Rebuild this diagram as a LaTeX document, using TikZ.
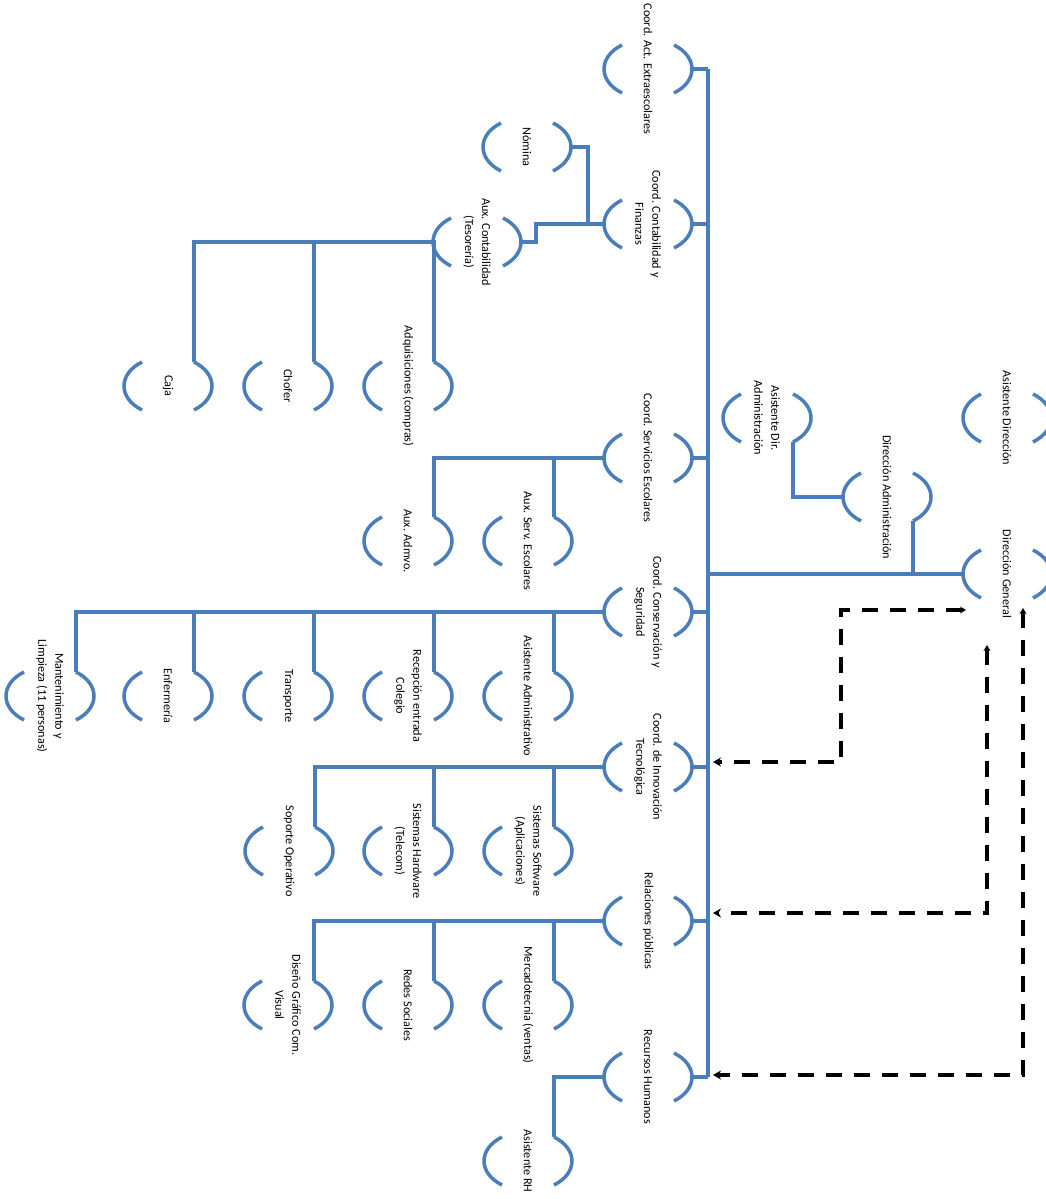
\documentclass[tikz,border=0pt]{standalone}
\usepackage{fontspec}
\setmainfont{Carlito}
\usetikzlibrary{arrows.meta}
\definecolor{orgblue}{RGB}{74,126,187}
\newcommand\orgnode[4]{%
  \begin{scope}[shift={(#2,#3)}]
    \node[txt] (#1) at (0,0) {#4};
    \draw[brk] (-26,-24) .. controls (-50,-12) and (-50,12) .. (-26,24);
    \draw[brk] (26,-24) .. controls (50,-12) and (50,12) .. (26,24);
    \coordinate (#1-l) at (-44,0);
    \coordinate (#1-r) at (44,0);
    \coordinate (#1-rt) at (26,-24);
    \coordinate (#1-rb) at (26,24);
  \end{scope}}
\begin{document}
\begin{tikzpicture}[x=1pt,y=-1pt,
  txt/.style={rotate=-90,align=center,inner sep=0pt,font=\fontsize{12.2}{17}\selectfont},
  brk/.style={draw=orgblue,line width=3.5pt},
  conn/.style={draw=orgblue,line width=3.5pt},
  dashline/.style={draw=black,line width=3.5pt,dash pattern=on 16pt off 12pt,
    arrows={Stealth[length=6pt,width=7pt]-Stealth[length=8pt,width=9pt]}}]
\useasboundingbox (0,0) rectangle (1045,1199);
% coordinators
\orgnode{coordAct}{648}{69}{Coord. Act. Extraescolares}
\orgnode{coordCont}{648}{224}{Coord. Contabilidad y\\Finanzas}
\orgnode{coordServ}{648}{458}{Coord. Servicios Escolares}
\orgnode{coordCons}{648}{612}{Coord. Conservación y\\Seguridad}
\orgnode{coordInno}{648}{767}{Coord. de Innovación\\Tecnológica}
\orgnode{relPub}{648}{921}{Relaciones públicas}
\orgnode{recHum}{648}{1077}{Recursos Humanos}
% contabilidad
\orgnode{nomina}{527}{147}{Nómina}
\orgnode{auxCont}{477}{242}{Aux. Contabilidad\\(Tesorería)}
\orgnode{adq}{408}{386}{Adquisiciones (compras)}
\orgnode{chofer}{288}{386}{Chofer}
\orgnode{caja}{168}{386}{Caja}
% servicios
\orgnode{auxServ}{528}{541}{Aux. Serv. Escolares}
\orgnode{auxAdm}{408}{541}{Aux. Admvo.}
% conservacion
\orgnode{asisAdm}{528}{696}{Asistente Administrativo}
\orgnode{recep}{408}{696}{Recepción entrada\\Colegio}
\orgnode{transp}{288}{696}{Transporte}
\orgnode{enf}{168}{696}{Enfermería}
\orgnode{mant}{50}{696}{Mantenimiento y\\Limpieza (11 personas)}
% innovacion
\orgnode{sisSoft}{528}{851}{Sistemas Software\\(Aplicaciones)}
\orgnode{sisHard}{408}{851}{Sistemas Hardware\\(Telecom)}
\orgnode{soporte}{289}{851}{Soporte Operativo}
% relaciones
\orgnode{merca}{528}{1005}{Mercadotecnia (ventas)}
\orgnode{redes}{408}{1005}{Redes Sociales}
\orgnode{diseno}{288}{1005}{Diseño Gráfico Com.\\Visual}
% rh
\orgnode{asisRH}{528}{1161}{Asistente RH}
% direccion
\orgnode{dirGen}{1007}{574}{Dirección General}
\orgnode{dirAdm}{887}{497}{Dirección Administración}
\orgnode{asisDirAdm}{767}{418}{Asistente Dir.\\Administración}
\orgnode{asisDir}{1007}{418}{Asistente Dirección}
% trunk
\coordinate (trunk) at (708,69);
\coordinate (jn) at (588,0);
\coordinate (ja) at (536,0);
\draw[conn] (coordAct-r -| trunk) -- (recHum-r -| trunk);
\foreach \n in {coordAct,coordCont,coordServ,coordCons,coordInno,relPub,recHum}
  \draw[conn] (\n-r) -- (\n-r -| trunk);
% contabilidad links
\draw[conn] (nomina-r) -| (jn |- coordCont-l) -- (coordCont-l);
\draw[conn] (auxCont-r) -| (ja |- coordCont-l) -- (coordCont-l);
\foreach \c in {adq,chofer,caja} \draw[conn] (auxCont-l) -| (\c-rt);
\foreach \c in {auxServ,auxAdm} \draw[conn] (coordServ-l) -| (\c-rt);
\foreach \c in {asisAdm,recep,transp,enf,mant} \draw[conn] (coordCons-l) -| (\c-rt);
\foreach \c in {sisSoft,sisHard,soporte} \draw[conn] (coordInno-l) -| (\c-rt);
\foreach \c in {merca,redes,diseno} \draw[conn] (relPub-l) -| (\c-rt);
\draw[conn] (recHum-l) -| (asisRH-rt);
% direccion links
\draw[conn] (dirGen-l) -- (dirGen-l -| trunk);
\draw[conn] (dirAdm-rb) -- (dirAdm-rb |- dirGen-l);
\draw[conn] (asisDirAdm-rb) |- (dirAdm-l);
% dashed links
\coordinate (a1) at (966,610);
\coordinate (a2) at (841,610);
\coordinate (a3) at (841,762);
\coordinate (a4) at (713,762);
\coordinate (b1) at (987,645);
\coordinate (b2) at (987,913);
\coordinate (b3) at (713,913);
\coordinate (c1) at (1023,608);
\coordinate (c2) at (1023,1075);
\coordinate (c3) at (713,1075);
\draw[dashline] (a1) -- (a2) -- (a3) -- (a4);
\draw[dashline] (b1) -- (b2) -- (b3);
\draw[dashline] (c1) -- (c2) -- (c3);
\end{tikzpicture}
\end{document}
